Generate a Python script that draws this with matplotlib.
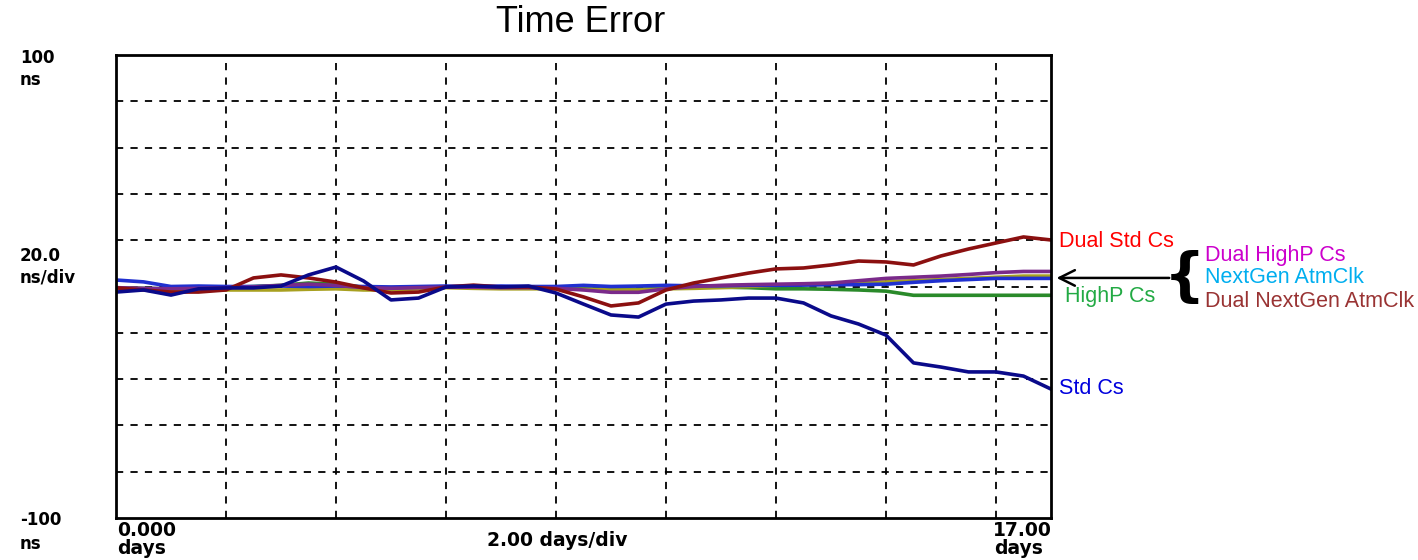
import numpy as np
import matplotlib.pyplot as plt

# time axis in days, one value every half day
days = np.arange(0, 17.5, 0.5)

# time error readings (ns)
std_cs = [-2.4, -1.5, -3.7, -1.0, -0.6, -0.6, 0.2, 5.0, 8.4, 2.4, -5.8, -5.0,
          -0.2, 0.2, -0.2, 0.2, -2.8, -7.6, -12.3, -13.2, -7.6, -6.3, -5.8, -5.0,
          -5.0, -7.1, -12.7, -16.2, -21.0, -33.0, -34.8, -36.9, -36.9, -38.7, -44.3]
dual_std_cs = [-0.6, -1.5, -2.4, -2.4, -1.5, 3.7, 5.0, 3.7, 1.9, -0.6, -2.8, -2.4,
               -0.2, 0.6, -0.2, -0.2, -1.1, -4.5, -8.4, -7.1, -1.5, 1.5, 3.7, 5.8,
               7.6, 8.0, 9.3, 11.0, 10.6, 9.3, 13.2, 16.2, 18.8, 21.4, 20.1]
highp_cs = [-0.6, -0.8, -1.0, -0.8, -0.5, 0.0, 0.5, 1.5, 1.0, -0.3, -0.5, -0.5,
            -0.3, -0.3, -0.5, -0.5, -0.6, -1.0, -1.2, -1.2, -0.8, 0.0, -0.3, -0.5,
            -1.0, -1.0, -1.2, -1.5, -2.0, -3.8, -3.8, -3.8, -3.8, -3.8, -3.8]
dual_highp_cs = [-0.5, -0.8, -1.0, -0.8, -0.5, -0.2, 0.5, 1.0, 0.5, -0.5, -0.8, -0.5,
                 -0.3, -0.3, -0.5, -0.5, -0.8, -1.5, -2.5, -2.5, -1.0, 0.0, 0.5, 0.8,
                 1.0, 1.2, 1.5, 2.5, 3.5, 4.0, 4.5, 5.2, 6.0, 6.5, 6.5]
nextgen_atm = [2.8, 2.0, 0.0, 0.2, 0.0, 0.0, 0.2, 0.0, 0.2, 0.0, -0.2, 0.0,
               0.2, 0.0, 0.2, 0.0, 0.0, 0.5, 0.0, 0.2, 0.5, 0.3, 0.3, 0.5,
               0.5, 0.6, 0.8, 0.8, 1.0, 1.8, 2.5, 3.0, 3.5, 3.5, 3.5]
dual_nextgen_atm = [-0.5, -1.0, -1.5, -1.5, -1.5, -1.5, -1.5, -1.2, -1.0, -1.5, -1.5, -1.0,
                    -0.5, -0.8, -1.0, -1.0, -1.0, -1.2, -1.5, -1.5, -1.0, -0.8, -0.5, 0.0,
                    0.5, 0.8, 1.0, 1.5, 2.0, 2.5, 3.0, 3.5, 4.0, 4.5, 4.5]

fig = plt.figure(figsize=(14.18, 5.6), dpi=100)
ax = fig.add_axes([116/1418, 42/560, 935/1418, 463/560])

# drawn back to front like the original trace display
ax.plot(days, highp_cs, color='#2a8a2a', lw=2.6)
ax.plot(days, dual_nextgen_atm, color='#a8a020', lw=2.6)
ax.plot(days, nextgen_atm, color='#2030d0', lw=2.6)
ax.plot(days, dual_highp_cs, color='#7a2a8a', lw=2.6)
ax.plot(days, dual_std_cs, color='#8b1010', lw=2.6)
ax.plot(days, std_cs, color='#0a0a8a', lw=2.6)

ax.set_xlim(0, 17)
ax.set_ylim(-100, 100)
ax.set_xticks(np.arange(2, 17, 2))
ax.set_yticks(np.arange(-80, 100, 20))
ax.grid(True, color='black', linestyle=(0, (4, 4)), linewidth=1.3)
ax.tick_params(length=0, labelbottom=False, labelleft=False)
for s in ax.spines.values():
    s.set_linewidth(2)

fig.text(581/1418, 1 - 22/560, 'Time Error', fontsize=26, family='Liberation Sans',
         ha='center', va='center')

# scale labels, left and bottom
lab = dict(fontsize=12, fontweight='bold', family='DejaVu Sans', va='center')
fig.text(20/1418, 1 - 58/560, '100', ha='left', **lab)
fig.text(20/1418, 1 - 80/560, 'ns', ha='left', **lab)
fig.text(20/1418, 1 - 256/560, '20.0', ha='left', **lab)
fig.text(20/1418, 1 - 278/560, 'ns/div', ha='left', **lab)
fig.text(20/1418, 1 - 520/560, '-100', ha='left', **lab)
fig.text(20/1418, 1 - 544/560, 'ns', ha='left', **lab)
bot = dict(lab, fontsize=13.5)
fig.text(117/1418, 1 - 530/560, '0.000', ha='left', **bot)
fig.text(117/1418, 1 - 548/560, 'days', ha='left', **bot)
fig.text(557/1418, 1 - 540/560, '2.00 days/div', ha='center', **bot)
fig.text(1052/1418, 1 - 530/560, '17.00', ha='right', **bot)
fig.text(994/1418, 1 - 548/560, 'days', ha='left', **bot)

# series names at the right edge
nm = dict(fontsize=15.5, family='Liberation Sans', va='center', clip_on=False)
ax.text(17.15, 19.5, 'Dual Std Cs', color='#ff0000', **nm)
ax.text(17.25, -4.5, 'HighP Cs', color='#22aa44', **nm)
ax.text(17.15, -44, 'Std Cs', color='#0000dd', **nm)
ax.text(19.8, 13.5, 'Dual HighP Cs', color='#cc00cc', **nm)
ax.text(19.8, 4.0, 'NextGen AtmClk', color='#00aeef', **nm)
ax.text(19.8, -6.5, 'Dual NextGen AtmClk', color='#993333', **nm)
ax.text(19.42, 3.5, '{', fontsize=42, fontweight='bold', family='DejaVu Sans',
        va='center', ha='center', clip_on=False)
ax.annotate('', xy=(17.05, 3.7), xytext=(19.2, 3.7),
            arrowprops=dict(arrowstyle='->', lw=1.8, color='black',
                            mutation_scale=28), annotation_clip=False)

fig.savefig('out.png', dpi=100)
